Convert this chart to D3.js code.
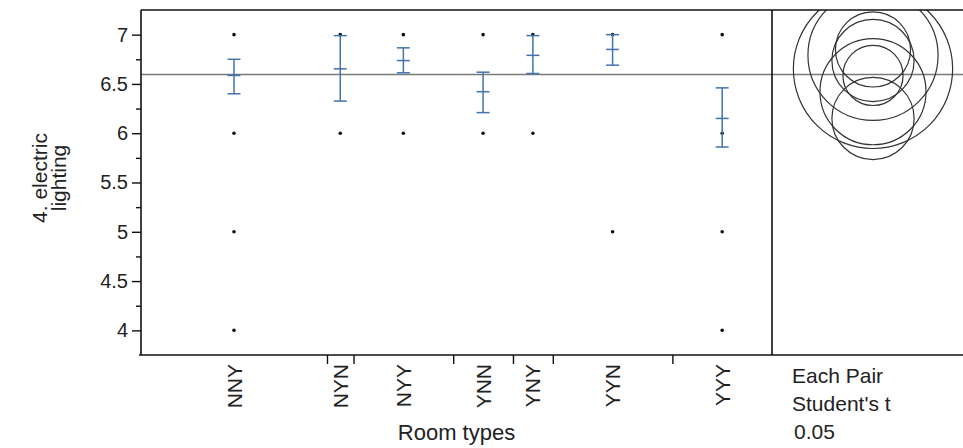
<!DOCTYPE html>
<html>
<head>
<meta charset="utf-8">
<script src="https://cdn.jsdelivr.net/npm/d3@7"></script>
<style>
  html, body { margin: 0; padding: 0; background: #fff; }
  svg { display: block; font-family: "Liberation Sans", Arial, sans-serif; }
</style>
</head>
<body>
<svg id="chart" width="963" height="448"></svg>
<script>
// ---- data ----
const categories = ["NNY", "NYN", "NYY", "YNN", "YNY", "YYN", "YYY"];
const counts     = [28, 4, 15, 9, 6, 18, 15];
const means      = [6.586, 6.653, 6.737, 6.421, 6.79, 6.85, 6.15];
const lowerBars  = [6.40, 6.326, 6.613, 6.209, 6.606, 6.69, 5.86];
const upperBars  = [6.75, 6.99, 6.866, 6.619, 6.99, 7.0, 6.46];
const pointValues = [
  [7, 6, 5, 4],
  [7, 6],
  [7, 6],
  [7, 6],
  [7, 6],
  [7, 5],
  [7, 6, 5, 4]
];
const circleRadii = [0.305, 0.808, 0.417, 0.538, 0.66, 0.381, 0.417];
const grandMean = 6.596;
const yTicks = [4, 4.5, 5, 5.5, 6, 6.5, 7];
const yMinorTicks = [4.25, 4.75, 5.25, 5.75, 6.25, 6.75];
const yTitle = ["4. electric", "lighting"];
const xTitle = "Room types";
const testLabels = ["Each Pair", "Student's t", "0.05"];

(function () {
// ---- layout ----
const svg = d3.select("#chart");
const L = 141, T = 10, B = 355, plotRight = 772, panelRight = 963;
const circleCx = 873;
const fontSize = 20;

const total = d3.sum(counts);
const x = d3.scaleLinear().domain([0, total]).range([L, plotRight]);
const y = d3.scaleLinear().domain([3.75, 7.25]).range([B, T]);
const starts = Array.from(d3.cumsum([0, ...counts])).slice(0, counts.length);
const cats = categories.map((c, i) => ({
  name: c, n: counts[i], start: starts[i], end: starts[i] + counts[i],
  mid: starts[i] + counts[i] / 2,
  mean: means[i], lo: lowerBars[i], hi: upperBars[i],
  pts: pointValues[i], r: circleRadii[i]
}));

// clip for circle panel
svg.append("defs").append("clipPath").attr("id", "panelClip")
  .append("rect").attr("x", plotRight).attr("y", T)
  .attr("width", panelRight - plotRight).attr("height", B - T);

// grand mean line
svg.append("line")
  .attr("x1", L).attr("x2", panelRight)
  .attr("y1", y(grandMean)).attr("y2", y(grandMean))
  .attr("stroke", "#7a7a7a").attr("stroke-width", 1.5);

// data points
const g = svg.append("g");
cats.forEach(c => {
  g.selectAll(null).data(c.pts).enter().append("circle")
    .attr("cx", x(c.mid)).attr("cy", d => y(d))
    .attr("r", 1.8).attr("fill", "#111");
});

// error bars
const blue = "#4274ad";
const capW = 6.5;
cats.forEach(c => {
  const cx = x(c.mid);
  const eb = g.append("g").attr("stroke", blue).attr("stroke-width", 1.5).attr("fill", "none");
  eb.append("line").attr("x1", cx).attr("x2", cx).attr("y1", y(c.lo)).attr("y2", y(c.hi));
  eb.append("line").attr("x1", cx - capW).attr("x2", cx + capW).attr("y1", y(c.lo)).attr("y2", y(c.lo));
  eb.append("line").attr("x1", cx - capW).attr("x2", cx + capW).attr("y1", y(c.hi)).attr("y2", y(c.hi));
  eb.append("line").attr("x1", cx - capW).attr("x2", cx + capW).attr("y1", y(c.mean)).attr("y2", y(c.mean));
});

// comparison circles
const pxPerUnit = y(0) - y(1);
svg.append("g").attr("clip-path", "url(#panelClip)")
  .selectAll("circle").data(cats).enter().append("circle")
  .attr("cx", circleCx).attr("cy", d => y(d.mean))
  .attr("r", d => d.r * pxPerUnit)
  .attr("fill", "none").attr("stroke", "#333").attr("stroke-width", 1.2);

// frame
const frame = svg.append("g").attr("stroke", "#111").attr("stroke-width", 1.6);
frame.append("line").attr("x1", L).attr("x2", panelRight).attr("y1", T).attr("y2", T);
frame.append("line").attr("x1", L - 2).attr("x2", panelRight).attr("y1", B).attr("y2", B);
frame.append("line").attr("x1", plotRight).attr("x2", plotRight).attr("y1", T).attr("y2", B);

// y axis
const yAxis = svg.append("g").attr("transform", `translate(${L},0)`)
  .call(d3.axisLeft(y).tickValues(yTicks).tickSize(9).tickPadding(4).tickFormat(d3.format("")));
yAxis.select(".domain").attr("stroke", "#111").attr("stroke-width", 1.6)
  .attr("d", `M0,${T}V${B}`);
yAxis.selectAll(".tick line").attr("stroke", "#111").attr("stroke-width", 1.4);
yAxis.selectAll(".tick text").attr("font-size", fontSize).attr("fill", "#222")
  .attr("font-family", "Liberation Sans, Arial, sans-serif");
const yMinor = svg.append("g").attr("transform", `translate(${L},0)`)
  .call(d3.axisLeft(y).tickValues(yMinorTicks).tickSize(5).tickFormat(""));
yMinor.select(".domain").remove();
yMinor.selectAll(".tick line").attr("stroke", "#111").attr("stroke-width", 1.4);

// x axis boundary ticks
const bounds = cats.slice(1).map(c => c.start);
const xAxis = svg.append("g").attr("transform", `translate(0,${B})`)
  .call(d3.axisBottom(x).tickValues(bounds).tickSize(9).tickFormat(""));
xAxis.select(".domain").remove();
xAxis.selectAll(".tick line").attr("stroke", "#111").attr("stroke-width", 1.4);

// x category labels (rotated)
svg.append("g").selectAll("text").data(cats).enter().append("text")
  .attr("transform", d => `translate(${x(d.mid)},${B + 9}) rotate(-90)`)
  .attr("text-anchor", "end").attr("dy", "0.36em")
  .attr("font-size", 21).attr("fill", "#222")
  .text(d => d.name);

// axis titles
svg.append("text").attr("x", (L + plotRight) / 2).attr("y", 440)
  .attr("text-anchor", "middle").attr("font-size", 22).attr("fill", "#222")
  .text(xTitle);
const yt = svg.append("text").attr("transform", `translate(47,178) rotate(-90)`)
  .attr("text-anchor", "middle").attr("font-size", 21).attr("fill", "#222");
yTitle.forEach((t, i) => yt.append("tspan").attr("x", 0).attr("dy", i === 0 ? 0 : 19).text(t));

// test description
svg.append("g").selectAll("text").data(testLabels).enter().append("text")
  .attr("x", (d, i) => i === 2 ? 794 : 792).attr("y", (d, i) => 383 + i * 28)
  .attr("font-size", 21).attr("fill", "#222")
  .text(d => d);
})();
</script>
</body>
</html>
